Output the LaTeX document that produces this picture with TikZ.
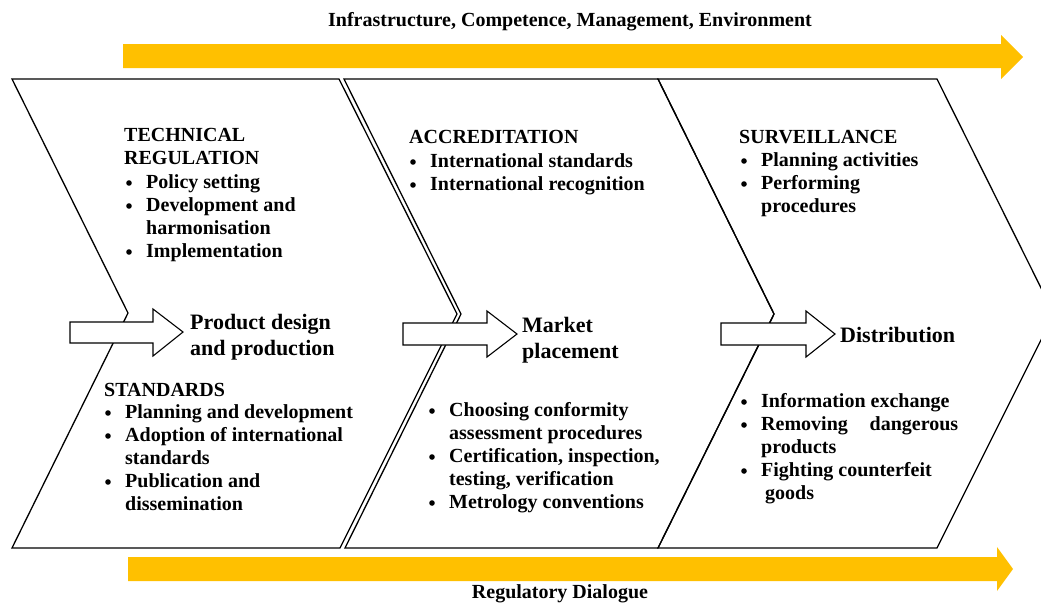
\documentclass[tikz,border=0pt]{standalone}
\usepackage{fontspec}
\setmainfont{Liberation Serif}
\definecolor{gold}{HTML}{FFC000}
\newcommand{\bulat}[1]{\fill ([xshift=-17pt,yshift=5pt]#1.base west) circle (2.8pt);}
\begin{document}
\begin{tikzpicture}[x=1pt,y=-1pt,
  txt/.style={anchor=base west, inner sep=0pt, font=\fontsize{20}{23}\selectfont\bfseries},
  big/.style={anchor=base west, inner sep=0pt, font=\fontsize{22}{26}\selectfont\bfseries},
  ttl/.style={anchor=base, inner sep=0pt, font=\fontsize{20}{23}\selectfont\bfseries},
  chev/.style={draw=black, line width=1.3pt, line join=miter},
  hollow/.style={draw=black, fill=white, line width=1.1pt, line join=miter},
  band/.style={fill=gold, draw=none}]
\clip (0,0) rectangle (1041,603);
\fill[white] (0,0) rectangle (1041,603);
% yellow bands
\fill[band] (123,44) -- (1001,44) -- (1001,35) -- (1023,57) -- (1001,79) -- (1001,68) -- (123,68) -- cycle;
\fill[band] (128,557) -- (997,557) -- (997,547) -- (1013,569) -- (997,591) -- (997,581) -- (128,581) -- cycle;
\node[ttl] (top) at (570,26) {Infrastructure, Competence, Management, Environment};
\node[ttl] (bot) at (560,598) {Regulatory Dialogue};
% chevrons
\draw[chev] (12,79) -- (339,79) -- (457,314) -- (340,548) -- (12,548) -- (128,313) -- cycle;
\draw[chev] (344,79) -- (658,79) -- (774,314) -- (658,548) -- (345,548) -- (461,314) -- cycle;
\draw[chev] (658,79) -- (937,79) -- (1054,314) -- (937,548) -- (658,548) -- (774,314) -- cycle;
% hollow arrows
\draw[hollow] (70,322) -- (153,322) -- (153,309) -- (183,332) -- (153,356) -- (153,343) -- (70,343) -- cycle;
\draw[hollow] (403,323) -- (487,323) -- (487,311) -- (517,334) -- (487,357) -- (487,345) -- (403,345) -- cycle;
\draw[hollow] (721,323) -- (806,323) -- (806,311) -- (835,334) -- (806,357) -- (806,345) -- (721,345) -- cycle;
% left chevron text
\node[txt] (a1) at (124,141) {TECHNICAL};
\node[txt] (a2) at (124,164) {REGULATION};
\node[txt] (a3) at (146,188) {Policy setting};
\node[txt] (a4) at (146,211) {Development and};
\node[txt] (a5) at (146,234) {harmonisation};
\node[txt] (a6) at (146,257) {Implementation};
\node[big] (p1) at (190,329) {Product design};
\node[big] (p2) at (190,355) {and production};
\node[txt] (s1) at (104,396) {STANDARDS};
\node[txt] (s2) at (125,418) {Planning and development};
\node[txt] (s3) at (125,441) {Adoption of international};
\node[txt] (s4) at (125,464) {standards};
\node[txt] (s5) at (125,487) {Publication and};
\node[txt] (s6) at (125,510) {dissemination};
% middle chevron text
\node[txt] (b1) at (409,143) {ACCREDITATION};
\node[txt] (b2) at (430,167) {International standards};
\node[txt] (b3) at (430,190) {International recognition};
\node[big] (m1) at (522,332) {Market};
\node[big] (m2) at (522,358) {placement};
\node[txt] (c1) at (449,416) {Choosing conformity};
\node[txt] (c2) at (449,439) {assessment procedures};
\node[txt] (c3) at (449,462) {Certification, inspection,};
\node[txt] (c4) at (449,485) {testing, verification};
\node[txt] (c5) at (449,508) {Metrology conventions};
% right chevron text
\node[txt] (v1) at (739,143) {SURVEILLANCE};
\node[txt] (v2) at (761,166) {Planning activities};
\node[txt] (v3) at (761,189) {Performing};
\node[txt] (v4) at (761,212) {procedures};
\node[big] (d0) at (840,342) {Distribution};
\node[txt] (d1) at (761,407) {Information exchange};
\node[txt] (d2) at (761,430) {\makebox[197pt][l]{Removing\hfill dangerous}};
\node[txt] (d3) at (761,453) {products};
\node[txt] (d4) at (761,476) {Fighting counterfeit};
\node[txt] (d5) at (765,499) {goods};
% bullets
\bulat{a3}\bulat{a4}\bulat{a6}
\bulat{s2}\bulat{s3}\bulat{s5}
\bulat{b2}\bulat{b3}
\bulat{c1}\bulat{c3}\bulat{c5}
\bulat{v2}\bulat{v3}
\bulat{d1}\bulat{d2}\bulat{d4}
\end{tikzpicture}
\end{document}
